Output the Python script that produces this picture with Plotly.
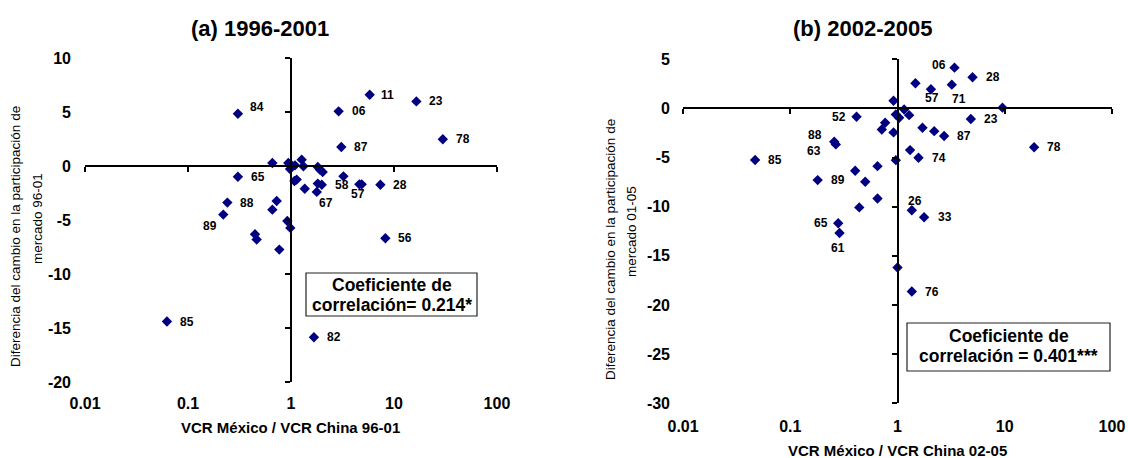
import numpy as np
import plotly.graph_objects as go

# ---------------- data: panel (a) 1996-2001 ----------------
a_x = [0.305, 5.81, 16.5, 2.90, 29.8, 3.08, 0.659, 0.942, 0.993, 0.978, 1.094, 1.27, 1.32,
       1.82, 1.91, 2.03, 3.23, 1.08, 1.135, 1.36, 1.82, 1.99, 1.78, 4.61, 4.86, 7.38,
       0.305, 0.241, 0.220, 0.726, 0.659, 0.921, 0.985, 0.447, 0.464, 0.77, 8.25, 0.0624, 1.67]
a_y = [4.84, 6.60, 5.98, 5.06, 2.47, 1.76, 0.28, 0.28, 0.15, -0.28, 0.06, 0.59, -0.03,
       -0.09, -0.34, -0.55, -0.96, -1.39, -1.26, -2.10, -1.63, -1.73, -2.40, -1.70, -1.70, -1.73,
       -0.99, -3.39, -4.50, -3.24, -4.04, -5.09, -5.73, -6.32, -6.81, -7.74, -6.69, -14.40, -15.85]
a_lab = ["84", "11", "23", "06", "78", "87", "", "", "", "", "", "", "",
         "", "", "", "", "", "", "", "", "58", "67", "", "57", "28",
         "65", "88", "89", "", "", "", "", "", "", "", "56", "85", "82"]

# ---------------- data: panel (b) 2002-2005 ----------------
b_x = [3.40, 5.01, 1.47, 2.05, 3.21, 9.53, 0.918, 1.153, 1.284, 0.965, 1.036, 0.767, 0.714,
       0.918, 0.415, 1.71, 2.20, 1.31, 1.57, 0.965, 0.651, 0.403, 0.50, 0.18, 0.257, 0.266,
       0.651, 0.44, 2.72, 4.83, 18.8, 0.047, 1.36, 1.77, 0.28, 0.288, 1.0, 1.36]
b_y = [4.15, 3.17, 2.56, 1.95, 2.42, 0.08, 0.78, -0.10, -0.68, -0.61, -0.95, -1.46, -2.14,
       -2.44, -0.85, -1.97, -2.31, -4.24, -5.02, -5.26, -5.87, -6.34, -7.46, -7.29, -3.39, -3.66,
       -9.16, -10.07, -2.80, -1.07, -3.95, -5.24, -10.36, -11.07, -11.68, -12.67, -16.19, -18.63]
b_lab = ["06", "28", "", "57", "71", "", "", "", "", "", "", "", "",
         "", "52", "", "", "", "74", "", "", "", "", "89", "88", "63",
         "", "", "87", "23", "78", "85", "26", "33", "65", "61", "", "76"]

x_tickvals = [0.01, 0.1, 1, 10, 100]
x_ticktext = ["0.01", "0.1", "1", "10", "100"]
a_yticks = [-20, -15, -10, -5, 0, 5, 10]
b_yticks = [-30, -25, -20, -15, -10, -5, 0, 5]

titles = ["(a) 1996-2001", "(b) 2002-2005"]
xtitles = ["VCR México / VCR China 96-01", "VCR México / VCR China 02-05"]
ytitle1 = "Diferencia del cambio en la participación de"
ytitles2 = ["mercado 96-01", "mercado 01-05"]
box_line1 = ["Coeficiente de", "Coeficiente de"]
box_line2 = ["correlación= 0.214*", "correlación = 0.401***"]

# label offsets (px) relative to the point, per panel
a_off = {"84": (19, 7), "11": (18, 0), "23": (20, 0), "06": (20, 0), "78": (20, 0), "87": (20, 0),
         "65": (20, 0), "88": (20, 0), "89": (-13, -11), "85": (20, 0), "82": (20, 0), "56": (20, 0),
         "28": (20, 0), "58": (20, 0), "57": (-4, -10), "67": (9, -11)}
b_off = {"06": (-15, 3), "28": (20, 0), "57": (1, -9), "71": (7, -14), "23": (20, 0), "87": (20, 0),
         "78": (20, 0), "52": (-18, 0), "88": (-19, 7), "63": (-22, -7), "85": (20, 0), "74": (20, 0),
         "89": (20, 0), "26": (3, 9), "33": (21, 0), "65": (-17, 0), "61": (-2, -15), "76": (20, 0)}

W, H = 1128, 458
FONT = "Liberation Sans, Arial, sans-serif"
NAVY = "#000080"


def px(x):
    return x / W


def py(y):
    return 1 - y / H


areas = [(85, 497, 58, 382), (683, 1112, 59.3, 403.3)]
yranges = [[-20, 10], [-30, 5]]
xrange_ = [np.log10(0.01) - 0.0005, np.log10(100) + 0.0005]

fig = go.Figure()

for i, (xs, ys) in enumerate([(a_x, a_y), (b_x, b_y)]):
    n = "" if i == 0 else "2"
    m = str(3 + i)
    fig.add_trace(go.Scatter(x=[], y=[], xaxis="x" + m, yaxis="y" + m, showlegend=False))
    fig.add_trace(go.Scatter(x=xs, y=ys, mode="markers", xaxis="x" + n, yaxis="y" + n,
                             marker=dict(symbol="diamond", size=8, color=NAVY),
                             showlegend=False, hoverinfo="skip"))

layout = dict(width=W, height=H, margin=dict(l=0, r=0, t=0, b=0, pad=0, autoexpand=False),
              autosize=False,
              paper_bgcolor="white", plot_bgcolor="rgba(0,0,0,0)",
              font=dict(family=FONT, color="black"))

annotations = []
shapes = []


def ann(text, x, y, size, bold=False, angle=0, **kw):
    d = dict(text="<b>%s</b>" % text if bold else text, x=px(x), y=py(y),
             xref="paper", yref="paper", xanchor="center", yanchor="middle",
             showarrow=False, textangle=angle, font=dict(size=size, family=FONT))
    d.update(kw)
    annotations.append(d)


for i in range(2):
    n = "" if i == 0 else "2"
    L, R, T, B = areas[i]
    xd = [px(L), px(R)]
    yd = [py(B), py(T)]
    yr = yranges[i]
    yt = a_yticks if i == 0 else b_yticks
    layout["xaxis" + n] = dict(type="log", range=xrange_, domain=xd, anchor="y" + n,
                               tickvals=x_tickvals, ticktext=["<b>%s</b>" % t for t in x_ticktext],
                               showline=False, showgrid=False, zeroline=False, ticks="",
                               automargin=False, tickfont=dict(size=16, family=FONT),
                               ticklabelstandoff=10 if i == 0 else 12)
    layout["yaxis" + n] = dict(range=yr, domain=yd, anchor="x" + n, tickvals=yt,
                               ticktext=["<b>%d</b>" % v for v in yt], showline=False,
                               showgrid=False, zeroline=False, ticks="", automargin=False,
                               tickfont=dict(size=16, family=FONT),
                               ticklabelstandoff=13 if i == 0 else 12)
    fy = (0 - yr[0]) / (yr[1] - yr[0])
    ypos = yd[0] + fy * (yd[1] - yd[0])
    fx = (0 - xrange_[0]) / (xrange_[1] - xrange_[0])
    xpos = xd[0] + fx * (xd[1] - xd[0])
    m = str(3 + i)
    layout["xaxis" + m] = dict(type="log", range=xrange_, overlaying="x" + n, anchor="free",
                               position=ypos, side="bottom", showline=True, linewidth=2,
                               linecolor="black", ticks="outside", ticklen=5, tickwidth=2,
                               tickcolor="black", tickvals=x_tickvals, showticklabels=False,
                               showgrid=False, zeroline=False, automargin=False)
    layout["yaxis" + m] = dict(range=yr, overlaying="y" + n, anchor="free", position=xpos,
                               side="left", showline=True, linewidth=2, linecolor="black",
                               ticks="outside", ticklen=5, tickwidth=2, tickcolor="black",
                               tickvals=yt, showticklabels=False, showgrid=False,
                               zeroline=False, automargin=False)

    ann(titles[i], [260, 862][i], 28, 22, bold=True)
    xt_x, xt_y = [(290, 427), (897, 450)][i]
    ann(xtitles[i], xt_x, xt_y, 15, bold=True)
    l1x, l1y, l2x, l2y = [(15, 237, 37, 219), (610, 250, 632, 232)][i]
    ann(ytitle1, l1x, l1y, 13.5, angle=-90)
    ann(ytitles2[i], l2x, l2y, 13.5, angle=-90)
    # correlation box
    bx0, bx1, by0, by1 = [(306, 477, 273, 316), (907, 1110, 323, 371)][i]
    shapes.append(dict(type="rect", xref="paper", yref="paper", x0=px(bx0), x1=px(bx1),
                       y0=py(by1), y1=py(by0), fillcolor="white",
                       line=dict(color="#222", width=1.2), layer="above"))
    cx = (bx0 + bx1) / 2
    l1, l2 = [(285, 304.5), (336, 356)][i]
    ann(box_line1[i], cx, l1, 17.5, bold=True)
    ann(box_line2[i], cx, l2, 17.5, bold=True)

for i, (xs, ys, labs, off) in enumerate([(a_x, a_y, a_lab, a_off), (b_x, b_y, b_lab, b_off)]):
    n = "" if i == 0 else "2"
    for xv, yv, lb in zip(xs, ys, labs):
        if not lb:
            continue
        dx, dy = off[lb]
        annotations.append(dict(text="<b>%s</b>" % lb, x=np.log10(xv), y=yv, xref="x" + n,
                                yref="y" + n, xanchor="center", yanchor="middle",
                                showarrow=False, xshift=dx, yshift=dy,
                                font=dict(size=12, family=FONT)))

layout["annotations"] = annotations
layout["shapes"] = shapes
fig.update_layout(**layout)
fig.write_html("out.html", config={"displayModeBar": False},
               post_script="document.body.style.margin='0';")
